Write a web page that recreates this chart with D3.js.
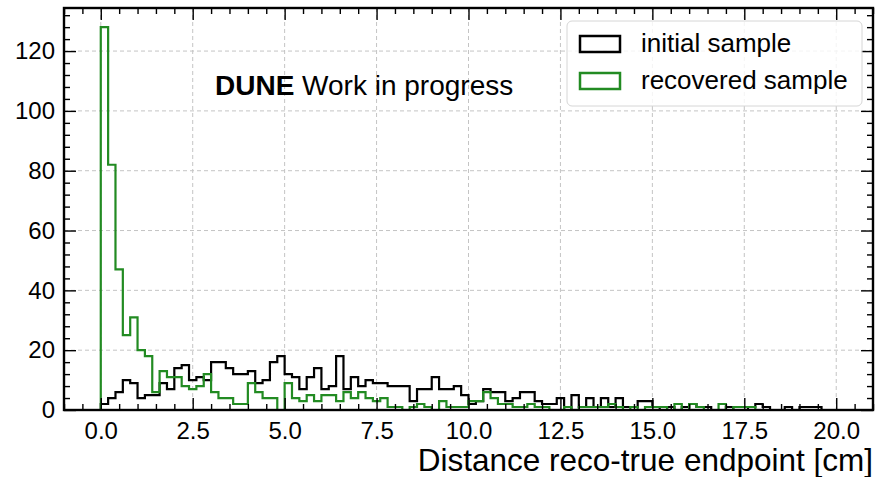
<!DOCTYPE html>
<html><head><meta charset="utf-8">
<script src="https://cdn.jsdelivr.net/npm/d3@7"></script>
<style>
body{margin:0;background:#fff}
text{font-family:"Liberation Sans",Arial,Helvetica,sans-serif;fill:#000}
</style>
</head><body>
<svg id="chart" width="883" height="477"></svg>
<script>
// ---- data ----
const binWidth = 0.2;
const binStarts = d3.range(100).map(i => +(i * binWidth).toFixed(1));
const initialCounts = [
  2,4,6,10,9,4,5,5,9,7, 14,15,10,11,10,16,16,14,12,12,
  13,9,10,16,18,12,11,7,11,14, 7,8,18,7,11,8,10,9,9,8,
  8,8,3,7,7,11,7,7,8,5, 2,3,7,6,6,3,4,6,6,3,
  2,2,4,0,5,1,4,1,4,1, 4,1,1,3,3,1,0,1,0,1,
  2,1,1,0,0,1,0,0,1,2, 1,0,0,1,0,1,1,1,0,0
];
const recoveredCounts = [
  128,82,47,25,31,20,18,6,13,11, 11,8,7,8,12,6,4,4,2,2,
  9,6,4,4,0,9,4,3,5,3, 5,5,3,6,4,6,4,3,4,1,
  1,0,1,2,1,0,3,1,1,1, 3,3,6,4,2,2,1,1,2,1,
  1,0,0,1,0,1,1,1,1,2, 1,0,1,0,1,1,1,0,2,0,
  2,1,0,0,2,0,1,1,1,0, 0,0,0,0,0,0,0,0,0,0
];
const seriesNames = ["initial sample", "recovered sample"];
const seriesColors = ["#000000", "#228b22"];
const xTicks = [0, 2.5, 5, 7.5, 10, 12.5, 15, 17.5, 20];
const xTickLabels = ["0.0","2.5","5.0","7.5","10.0","12.5","15.0","17.5","20.0"];
const yTicks = [0, 20, 40, 60, 80, 100, 120];
const xMinor = d3.range(-1, 21.01, 0.5);
const yMinor = d3.range(0, 134, 4);
const xLabel = "Distance reco-true endpoint [cm]";

// ---- layout ----
const W = 883, H = 477;
const m = {left: 64, right: 10, top: 8, bottom: 67};
const iw = W - m.left - m.right, ih = H - m.top - m.bottom;

const svg = d3.select("#chart");
const g = svg.append("g").attr("transform", `translate(${m.left},${m.top})`);

const x = d3.scaleLinear().domain([-1, 21]).range([0, iw]);
const y = d3.scaleLinear().domain([0, 134.4]).range([ih, 0]);

svg.append("defs").append("clipPath").attr("id","clip")
  .append("rect").attr("width", iw).attr("height", ih);

// grid
const grid = g.append("g").attr("class","grid");
grid.selectAll("line.gx").data(xTicks).join("line")
  .attr("x1", d => x(d)).attr("x2", d => x(d)).attr("y1", 0).attr("y2", ih)
  .attr("stroke", "#c4c4c4").attr("stroke-width", 1).attr("stroke-dasharray", "4,3");
grid.selectAll("line.gy").data(yTicks).join("line")
  .attr("y1", d => y(d)).attr("y2", d => y(d)).attr("x1", 0).attr("x2", iw)
  .attr("stroke", "#c4c4c4").attr("stroke-width", 1).attr("stroke-dasharray", "4,3");

// histograms (step)
function stepPath(counts) {
  const pts = [[x(binStarts[0]), y(0)]];
  counts.forEach((c, i) => {
    const x0 = x(binStarts[i]), x1 = x(binStarts[i] + binWidth);
    pts.push([x0, y(c)], [x1, y(c)]);
  });
  pts.push([x(binStarts[counts.length - 1] + binWidth), y(0)]);
  return d3.line()(pts);
}
const hg = g.append("g").attr("clip-path", "url(#clip)");
[initialCounts, recoveredCounts].forEach((counts, i) => {
  hg.append("path").attr("d", stepPath(counts))
    .attr("fill", "none").attr("stroke", seriesColors[i])
    .attr("stroke-width", 2.2).attr("stroke-linejoin", "miter");
});

// axes: ticks inward, all four sides
const fmtX = (d) => xTickLabels[xTicks.indexOf(d)];
const axB = g.append("g").attr("transform", `translate(0,${ih})`)
  .call(d3.axisBottom(x).tickValues(xTicks).tickFormat(fmtX).tickSize(-12).tickPadding(12));
const axBm = g.append("g").attr("transform", `translate(0,${ih})`)
  .call(d3.axisBottom(x).tickValues(xMinor.filter(v => !xTicks.includes(v))).tickFormat("").tickSize(-6));
const axT = g.append("g")
  .call(d3.axisTop(x).tickValues(xTicks).tickFormat("").tickSize(-12));
const axTm = g.append("g")
  .call(d3.axisTop(x).tickValues(xMinor.filter(v => !xTicks.includes(v))).tickFormat("").tickSize(-6));
const axL = g.append("g")
  .call(d3.axisLeft(y).tickValues(yTicks).tickSize(-12).tickPadding(9));
const axLm = g.append("g")
  .call(d3.axisLeft(y).tickValues(yMinor.filter(v => !yTicks.includes(v))).tickFormat("").tickSize(-6));
const axR = g.append("g").attr("transform", `translate(${iw},0)`)
  .call(d3.axisRight(y).tickValues(yTicks).tickFormat("").tickSize(-12));
const axRm = g.append("g").attr("transform", `translate(${iw},0)`)
  .call(d3.axisRight(y).tickValues(yMinor.filter(v => !yTicks.includes(v))).tickFormat("").tickSize(-6));
[axB, axBm, axT, axTm, axL, axLm, axR, axRm].forEach(a => {
  a.select(".domain").remove();
  a.selectAll(".tick line").attr("stroke", "#000").attr("stroke-width", 1.4);
  a.selectAll("text").attr("font-size", 24).attr("font-family", "Liberation Sans, Arial, sans-serif").attr("fill", "#000");
});

// frame
g.append("rect").attr("width", iw).attr("height", ih)
  .attr("fill", "none").attr("stroke", "#000").attr("stroke-width", 2.4);

// x label
svg.append("text").attr("x", W - m.right).attr("y", 471)
  .attr("text-anchor", "end").attr("font-size", 31.5).text(xLabel);

// DUNE label
const t = svg.append("text").attr("x", 215).attr("y", 95).attr("font-size", 28);
t.append("tspan").attr("font-weight", "bold").text("DUNE");
t.append("tspan").text(" Work in progress");

// legend
const lg = svg.append("g");
lg.append("rect").attr("x", 567).attr("y", 21).attr("width", 295).attr("height", 85)
  .attr("rx", 5).attr("fill", "#fff").attr("fill-opacity", 0.8)
  .attr("stroke", "#d6d6d6").attr("stroke-width", 1);
seriesNames.forEach((name, i) => {
  const yy = 36 + i * 37;
  lg.append("rect").attr("x", 580).attr("y", yy).attr("width", 40).attr("height", 16)
    .attr("fill", "none").attr("stroke", seriesColors[i]).attr("stroke-width", 2.5);
  lg.append("text").attr("x", 641).attr("y", yy + 16).attr("font-size", 26).text(name);
});
</script>
</body></html>
